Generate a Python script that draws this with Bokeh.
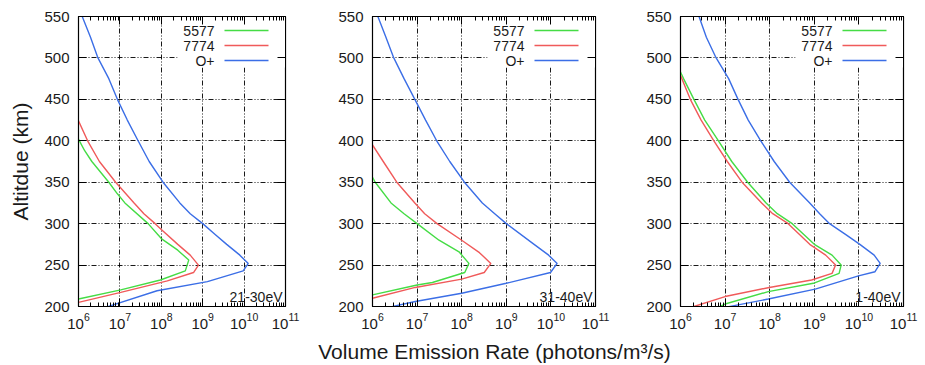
from bokeh.plotting import figure
from bokeh.models import (Range1d, LogAxis, LinearAxis, FixedTicker, Label,
                          BoxAnnotation, CustomJSTickFormatter)
from bokeh.layouts import row, column
from bokeh.embed import file_html
from bokeh.resources import INLINE

# ---------------- data ----------------
panel_tags = ["21-30eV", "31-40eV", "1-40eV"]
series_names = ["5577", "7774", "O+"]
series_colors = ["#45dc45", "#f05a5a", "#3b6ee6"]

y_ticks = [200, 250, 300, 350, 400, 450, 500, 550]
x_ticks = [1e6, 1e7, 1e8, 1e9, 1e10, 1e11]
x_minor = [m * 10.0 ** d for d in range(6, 11) for m in range(2, 10)]

# 21-30 eV
alt_5577_a = [402, 388, 375, 350, 336, 325, 300, 282, 268, 256, 243, 232, 220, 209]
ver_5577_a = [1.0e6, 1.41e6, 2.1e6, 5.4e6, 8.7e6, 1.32e7, 4.8e7, 1.0e8, 2.5e8, 4.6e8, 3.8e8, 9.5e7, 1.05e7, 1.0e6]
alt_7774_a = [424, 400, 375, 350, 325, 312, 300, 293, 275, 262, 250, 241, 231, 217, 205]
ver_7774_a = [1.0e6, 1.66e6, 3.2e6, 7.9e6, 2.2e7, 3.8e7, 7.1e7, 1.0e8, 2.5e8, 5.0e8, 7.9e8, 6.0e8, 1.4e8, 1.05e7, 1.0e6]
alt_oplus_a = [550, 525, 500, 475, 450, 425, 400, 375, 350, 325, 312, 300, 287, 275, 262, 252, 243, 230, 219, 199]
ver_oplus_a = [1.23e6, 1.95e6, 2.95e6, 5.4e6, 8.7e6, 1.51e7, 2.75e7, 5.1e7, 1.1e8, 2.8e8, 5.0e8, 1.0e9, 2.0e9, 3.8e9, 7.9e9, 1.26e10, 9.5e9, 1.3e9, 7.9e7, 4.5e6]

# 31-40 eV
alt_5577_b = [356, 350, 325, 312, 300, 280, 266, 252, 241, 229, 226, 214]
ver_5577_b = [1.0e6, 1.15e6, 2.6e6, 5.1e6, 1.0e7, 3.1e7, 8.7e7, 1.45e8, 1.17e8, 2.2e7, 1.0e7, 1.0e6]
alt_7774_b = [395, 375, 350, 325, 312, 300, 280, 265, 252, 241, 233, 223, 210]
ver_7774_b = [1.0e6, 1.74e6, 3.5e6, 8.9e6, 1.48e7, 2.8e7, 1.0e8, 2.5e8, 4.5e8, 3.2e8, 1.0e8, 9.1e6, 1.0e6]
alt_oplus_b = [550, 525, 500, 475, 450, 425, 400, 375, 350, 325, 312, 300, 275, 262, 252, 241, 228, 216, 206, 199]
ver_oplus_b = [1.32e6, 2.0e6, 3.0e6, 5.1e6, 8.9e6, 1.55e7, 2.75e7, 5.4e7, 1.15e8, 2.9e8, 5.5e8, 1.0e9, 4.2e9, 8.9e9, 1.38e10, 9.8e9, 1.0e9, 1.0e8, 9.1e6, 2.3e6]

# 1-40 eV
alt_5577_c = [483, 475, 450, 425, 400, 375, 350, 325, 312, 300, 275, 262, 250, 240, 228, 218, 203, 199]
ver_5577_c = [1.0e6, 1.17e6, 2.0e6, 3.5e6, 7.1e6, 1.41e7, 3.2e7, 8.3e7, 1.48e8, 3.2e8, 1.0e9, 2.5e9, 4.0e9, 3.6e9, 9.5e8, 9.3e7, 1.0e7, 6.9e6]
alt_7774_c = [479, 450, 425, 400, 375, 350, 325, 312, 300, 275, 262, 250, 240, 232, 223, 212, 200]
ver_7774_c = [1.0e6, 1.66e6, 2.9e6, 5.6e6, 1.12e7, 2.4e7, 6.6e7, 1.17e8, 2.6e8, 7.9e8, 1.8e9, 3.0e9, 2.5e9, 8.7e8, 9.8e7, 1.0e7, 2.0e6]
alt_oplus_c = [550, 525, 500, 475, 450, 425, 400, 375, 350, 325, 312, 300, 287, 275, 262, 252, 242, 237, 221, 209, 199]
ver_oplus_c = [2.6e6, 3.8e6, 6.3e6, 1.2e7, 1.95e7, 3.3e7, 6.3e7, 1.26e8, 2.8e8, 7.9e8, 1.32e9, 2.2e9, 5.0e9, 1.05e10, 2.2e10, 3.0e10, 2.3e10, 9.8e9, 1.05e9, 9.3e7, 1.0e7]

panels = [
    [(ver_5577_a, alt_5577_a), (ver_7774_a, alt_7774_a), (ver_oplus_a, alt_oplus_a)],
    [(ver_5577_b, alt_5577_b), (ver_7774_b, alt_7774_b), (ver_oplus_b, alt_oplus_b)],
    [(ver_5577_c, alt_5577_c), (ver_7774_c, alt_7774_c), (ver_oplus_c, alt_oplus_c)],
]

x_title = "Volume Emission Rate (photons/m\u00b3/s)"
y_title = "Altitdue (km)"

# ---------------- styling ----------------
FONT = "Liberation Sans"
TXT = "#1a1a1a"
FH = 290          # frame height
TOP = 16
BOT = 30
XMIN, XMAX = 1e6, 1e11
YMIN, YMAX = 200, 550


def xd(px, fw):
    """screen offset (px from frame left) -> data x on the log axis"""
    return 10 ** (6 + 5.0 * px / fw)


def yd(px):
    """screen offset (px from frame bottom) -> data y"""
    return YMIN + (YMAX - YMIN) * px / FH


def make_panel(series, tag, fw, lb, rb, first):
    p = figure(width=lb + fw + rb, height=TOP + FH + BOT,
               x_axis_type="log", x_range=Range1d(XMIN, XMAX),
               y_range=Range1d(YMIN, YMAX),
               min_border_left=lb, min_border_right=rb,
               min_border_top=TOP, min_border_bottom=BOT,
               output_backend="svg", toolbar_location=None)
    p.outline_line_color = "black"
    p.outline_line_width = 1.2

    xa = p.xaxis[0]
    xa.ticker = FixedTicker(ticks=x_ticks, minor_ticks=x_minor)
    ya = p.yaxis[0]
    ya.ticker = FixedTicker(ticks=y_ticks)
    for ax in (xa, ya):
        ax.major_tick_in = 8
        ax.major_tick_out = 0
        ax.minor_tick_in = 4
        ax.minor_tick_out = 0
        ax.axis_line_color = "black"
        ax.major_tick_line_color = "black"
        ax.minor_tick_line_color = "black"
        ax.major_label_text_font = FONT
        ax.major_label_text_font_size = "15px"
        ax.major_label_text_color = TXT
    xa.major_label_standoff = 6
    ya.major_label_standoff = 9

    if first:
        ya.axis_label = y_title
        ya.axis_label_text_font = FONT
        ya.axis_label_text_font_size = "21px"
        ya.axis_label_text_font_style = "normal"
        ya.axis_label_text_color = TXT
        ya.axis_label_standoff = 9

    blank = CustomJSTickFormatter(code="return ''")
    top = LogAxis(ticker=FixedTicker(ticks=x_ticks, minor_ticks=x_minor),
                  formatter=blank, major_tick_in=8, major_tick_out=0,
                  minor_tick_in=4, minor_tick_out=0, major_label_standoff=0,
                  major_label_text_font_size="0px")
    p.add_layout(top, "above")
    right = LinearAxis(ticker=FixedTicker(ticks=y_ticks), formatter=blank,
                       major_tick_in=8, major_tick_out=0, minor_tick_in=0,
                       minor_tick_out=0, major_label_standoff=0,
                       major_label_text_font_size="0px")
    p.add_layout(right, "right")

    for g in (p.xgrid[0], p.ygrid[0]):
        g.grid_line_color = "black"
        g.grid_line_width = 1
        g.grid_line_alpha = 0.9
        g.grid_line_dash = "5 2 1 2 1 2"

    # opaque legend background (covers the grid, under the ticks)
    p.add_layout(BoxAnnotation(left=xd(fw - 108, fw), right=XMAX,
                               bottom=yd(FH - 51), top=YMAX,
                               fill_color="white", fill_alpha=1.0,
                               line_alpha=0, level="underlay"))

    for (xs, ys), name, col in zip(series, series_names, series_colors):
        p.line(xs, ys, line_color=col, line_width=1.4)

    for i, (name, col) in enumerate(zip(series_names, series_colors)):
        yc = FH - 14 - 15 * i
        p.add_layout(Label(x=xd(fw - 71, fw), y=yd(yc), text=name,
                           text_align="right", text_baseline="middle",
                           text_font=FONT, text_font_size="14px",
                           text_color=TXT))
        p.add_layout(BoxAnnotation(left=xd(fw - 61, fw), right=xd(fw - 17, fw),
                                   bottom=yd(yc - 0.75), top=yd(yc + 0.75),
                                   fill_color=col, fill_alpha=1.0,
                                   line_alpha=0))

    p.add_layout(Label(x=xd(fw - 3, fw), y=yd(9.5), text=tag,
                       text_align="right", text_baseline="alphabetic",
                       text_font=FONT, text_font_size="14px", text_color=TXT))
    return p


p1 = make_panel(panels[0], panel_tags[0], 207, 78, 15, True)
p2 = make_panel(panels[1], panel_tags[1], 223, 72, 15, False)
p3 = make_panel(panels[2], panel_tags[2], 223, 70, 20, False)

pt = figure(width=925, height=365 - (TOP + FH + BOT),
            x_range=Range1d(0, 925), y_range=Range1d(0, 365 - (TOP + FH + BOT)),
            min_border=0, x_axis_location=None, y_axis_location=None,
            output_backend="svg", toolbar_location=None)
pt.grid.visible = False
pt.outline_line_color = None
pt.add_layout(Label(x=494, y=14, text=x_title, text_align="center",
                    text_baseline="middle", text_font=FONT,
                    text_font_size="21px", text_color=TXT))

layout = column(row(p1, p2, p3), pt)
open("out.html", "w").write(file_html(layout, INLINE))
